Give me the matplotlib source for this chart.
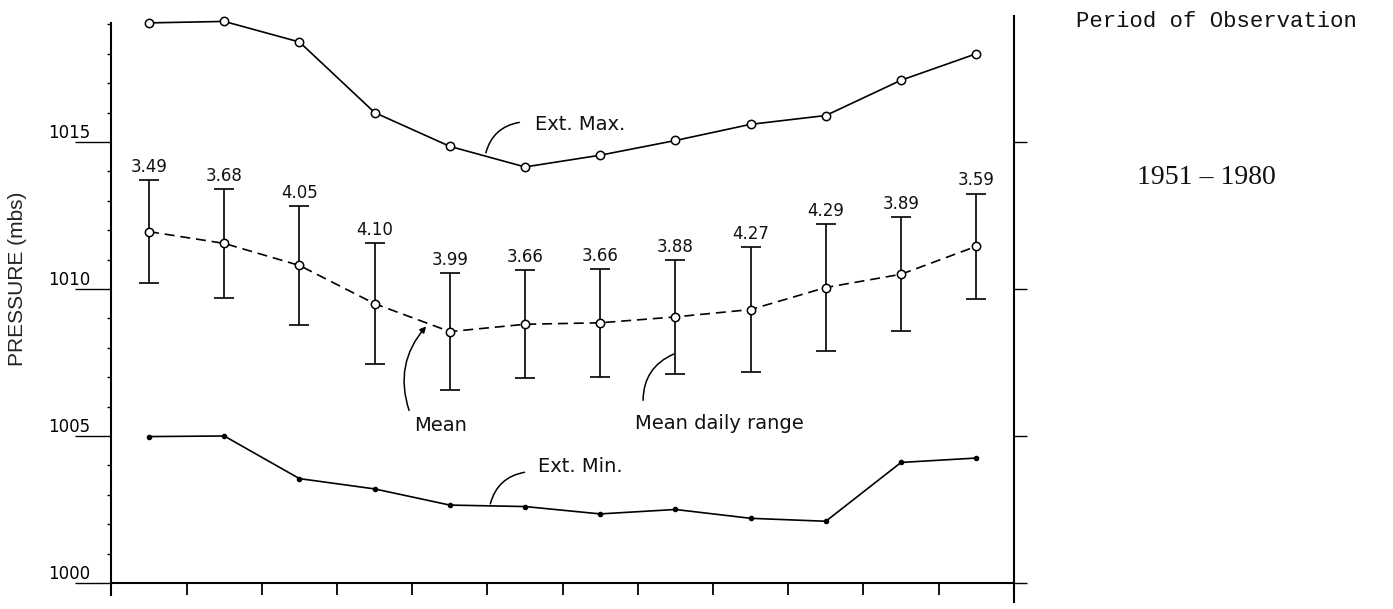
import numpy as np
import matplotlib
matplotlib.use("Agg")
import matplotlib.pyplot as plt
from matplotlib.ticker import MultipleLocator

# monthly values, Jan..Dec
ext_max = [1019.05, 1019.1, 1018.4, 1016.0, 1014.85, 1014.15,
           1014.55, 1015.05, 1015.6, 1015.9, 1017.1, 1018.0]
mean = [1011.95, 1011.55, 1010.8, 1009.5, 1008.55, 1008.8,
        1008.85, 1009.05, 1009.3, 1010.05, 1010.5, 1011.45]
daily_range = [3.49, 3.68, 4.05, 4.10, 3.99, 3.66,
               3.66, 3.88, 4.27, 4.29, 3.89, 3.59]
ext_min = [1004.98, 1005.0, 1003.55, 1003.2, 1002.65, 1002.6,
           1002.35, 1002.5, 1002.2, 1002.1, 1004.1, 1004.25]
range_labels = ["3.49", "3.68", "4.05", "4.10", "3.99", "3.66",
                "3.66", "3.88", "4.27", "4.29", "3.89", "3.59"]
y_major = [1000, 1005, 1010, 1015]

x = np.arange(len(mean)) + 0.5
half = np.array(daily_range) / 2

fig = plt.figure(figsize=(13.93, 6.09), dpi=100)
ax = fig.add_axes([0.08, 0.0089, 0.6478, 0.968])
ax.set_xlim(0, 12)
ax.set_ylim(999.3, 1019.35)

lw = 1.2
# extreme max
ax.plot(x, ext_max, color="black", lw=lw, marker="o", ms=6,
        mfc="white", mec="black", mew=1.1, zorder=3)
# mean with mean daily range bars
ax.errorbar(x, mean, yerr=half, fmt="none", ecolor="black",
            elinewidth=lw, capsize=7, capthick=lw, zorder=2)
ax.plot(x, mean, color="black", lw=lw, dashes=(6, 3.5), marker="o", ms=6,
        mfc="white", mec="black", mew=1.1, zorder=3)
# extreme min
ax.plot(x, ext_min, color="black", lw=lw, marker="o", ms=3,
        mfc="black", mec="black", zorder=3)

for xi, top, lab in zip(x, np.array(mean) + half, range_labels):
    ax.annotate(lab, (xi, top), xytext=(0, 3), textcoords="offset points",
                ha="center", va="bottom", fontsize=12, color="#111111")

# labels with curved leaders
txt = dict(fontsize=14, color="#111111")
ax.text(5.63, 1015.61, "Ext. Max.", ha="left", va="center", **txt)
ax.annotate("", xy=(4.97, 1014.54), xytext=(5.46, 1015.68),
            arrowprops=dict(arrowstyle="-", lw=1.1, connectionstyle="arc3,rad=0.35"))
ax.text(4.375, 1005.37, "Mean", ha="center", va="center", **txt)
ax.annotate("", xy=(4.21, 1008.8), xytext=(3.97, 1005.78),
            arrowprops=dict(arrowstyle="-|>", lw=1.1, mutation_scale=9,
                            color="black", connectionstyle="arc3,rad=-0.3"))
ax.text(6.96, 1005.44, "Mean daily range", ha="left", va="center", **txt)
ax.annotate("", xy=(7.51, 1007.82), xytext=(7.07, 1006.12),
            arrowprops=dict(arrowstyle="-", lw=1.1, connectionstyle="arc3,rad=-0.35"))
ax.text(5.67, 1003.95, "Ext. Min.", ha="left", va="center", **txt)
ax.annotate("", xy=(5.03, 1002.6), xytext=(5.53, 1003.78),
            arrowprops=dict(arrowstyle="-", lw=1.1, connectionstyle="arc3,rad=0.35"))

# axes frame
ax.spines["top"].set_visible(False)
ax.spines["right"].set_visible(False)
ax.spines["bottom"].set_position(("data", 1000))
ax.spines["bottom"].set_bounds(0, 12)
ax.spines["left"].set_bounds(999.59, 1019.05)
for s in ("left", "bottom"):
    ax.spines[s].set_linewidth(1.5)

ax.set_xticks(range(1, 12))
ax.set_xticklabels([])
ax.tick_params(axis="x", direction="out", length=8.6, width=1.3)

ax.set_yticks(y_major)
ax.set_yticklabels([str(v) for v in y_major])
ax.yaxis.set_minor_locator(MultipleLocator(1))
ax.tick_params(axis="y", which="major", direction="out", length=26, width=1.0,
               pad=-11, labelsize=12)
ax.tick_params(axis="y", which="minor", direction="out", length=3, width=1.0)
plt.setp(ax.get_yticklabels(), va="bottom")

# right hand axis, ticks only
ax2 = ax.twinx()
ax2.set_ylim(ax.get_ylim())
for s in ("top", "left", "bottom"):
    ax2.spines[s].set_visible(False)
ax2.spines["right"].set_bounds(999.35, 1019.3)
ax2.spines["right"].set_linewidth(1.5)
ax2.set_yticks(y_major)
ax2.set_yticklabels([])
ax2.tick_params(axis="y", direction="out", length=9.4, width=1.0)

fig.text(18 / 1393, 1 - 279 / 609, "PRESSURE (mbs)", rotation=90,
         ha="center", va="center", fontsize=15, family="Liberation Sans", color="#222222")
fig.text(0.873, 0.9655, "Period of Observation", ha="center", va="center",
         fontsize=16, family="Liberation Mono", color="#111111")
fig.text(0.866, 0.708, "1951 \u2013 1980", ha="center", va="center",
         fontsize=20, family="Liberation Serif", color="#111111")

fig.savefig("out.png", dpi=100)
